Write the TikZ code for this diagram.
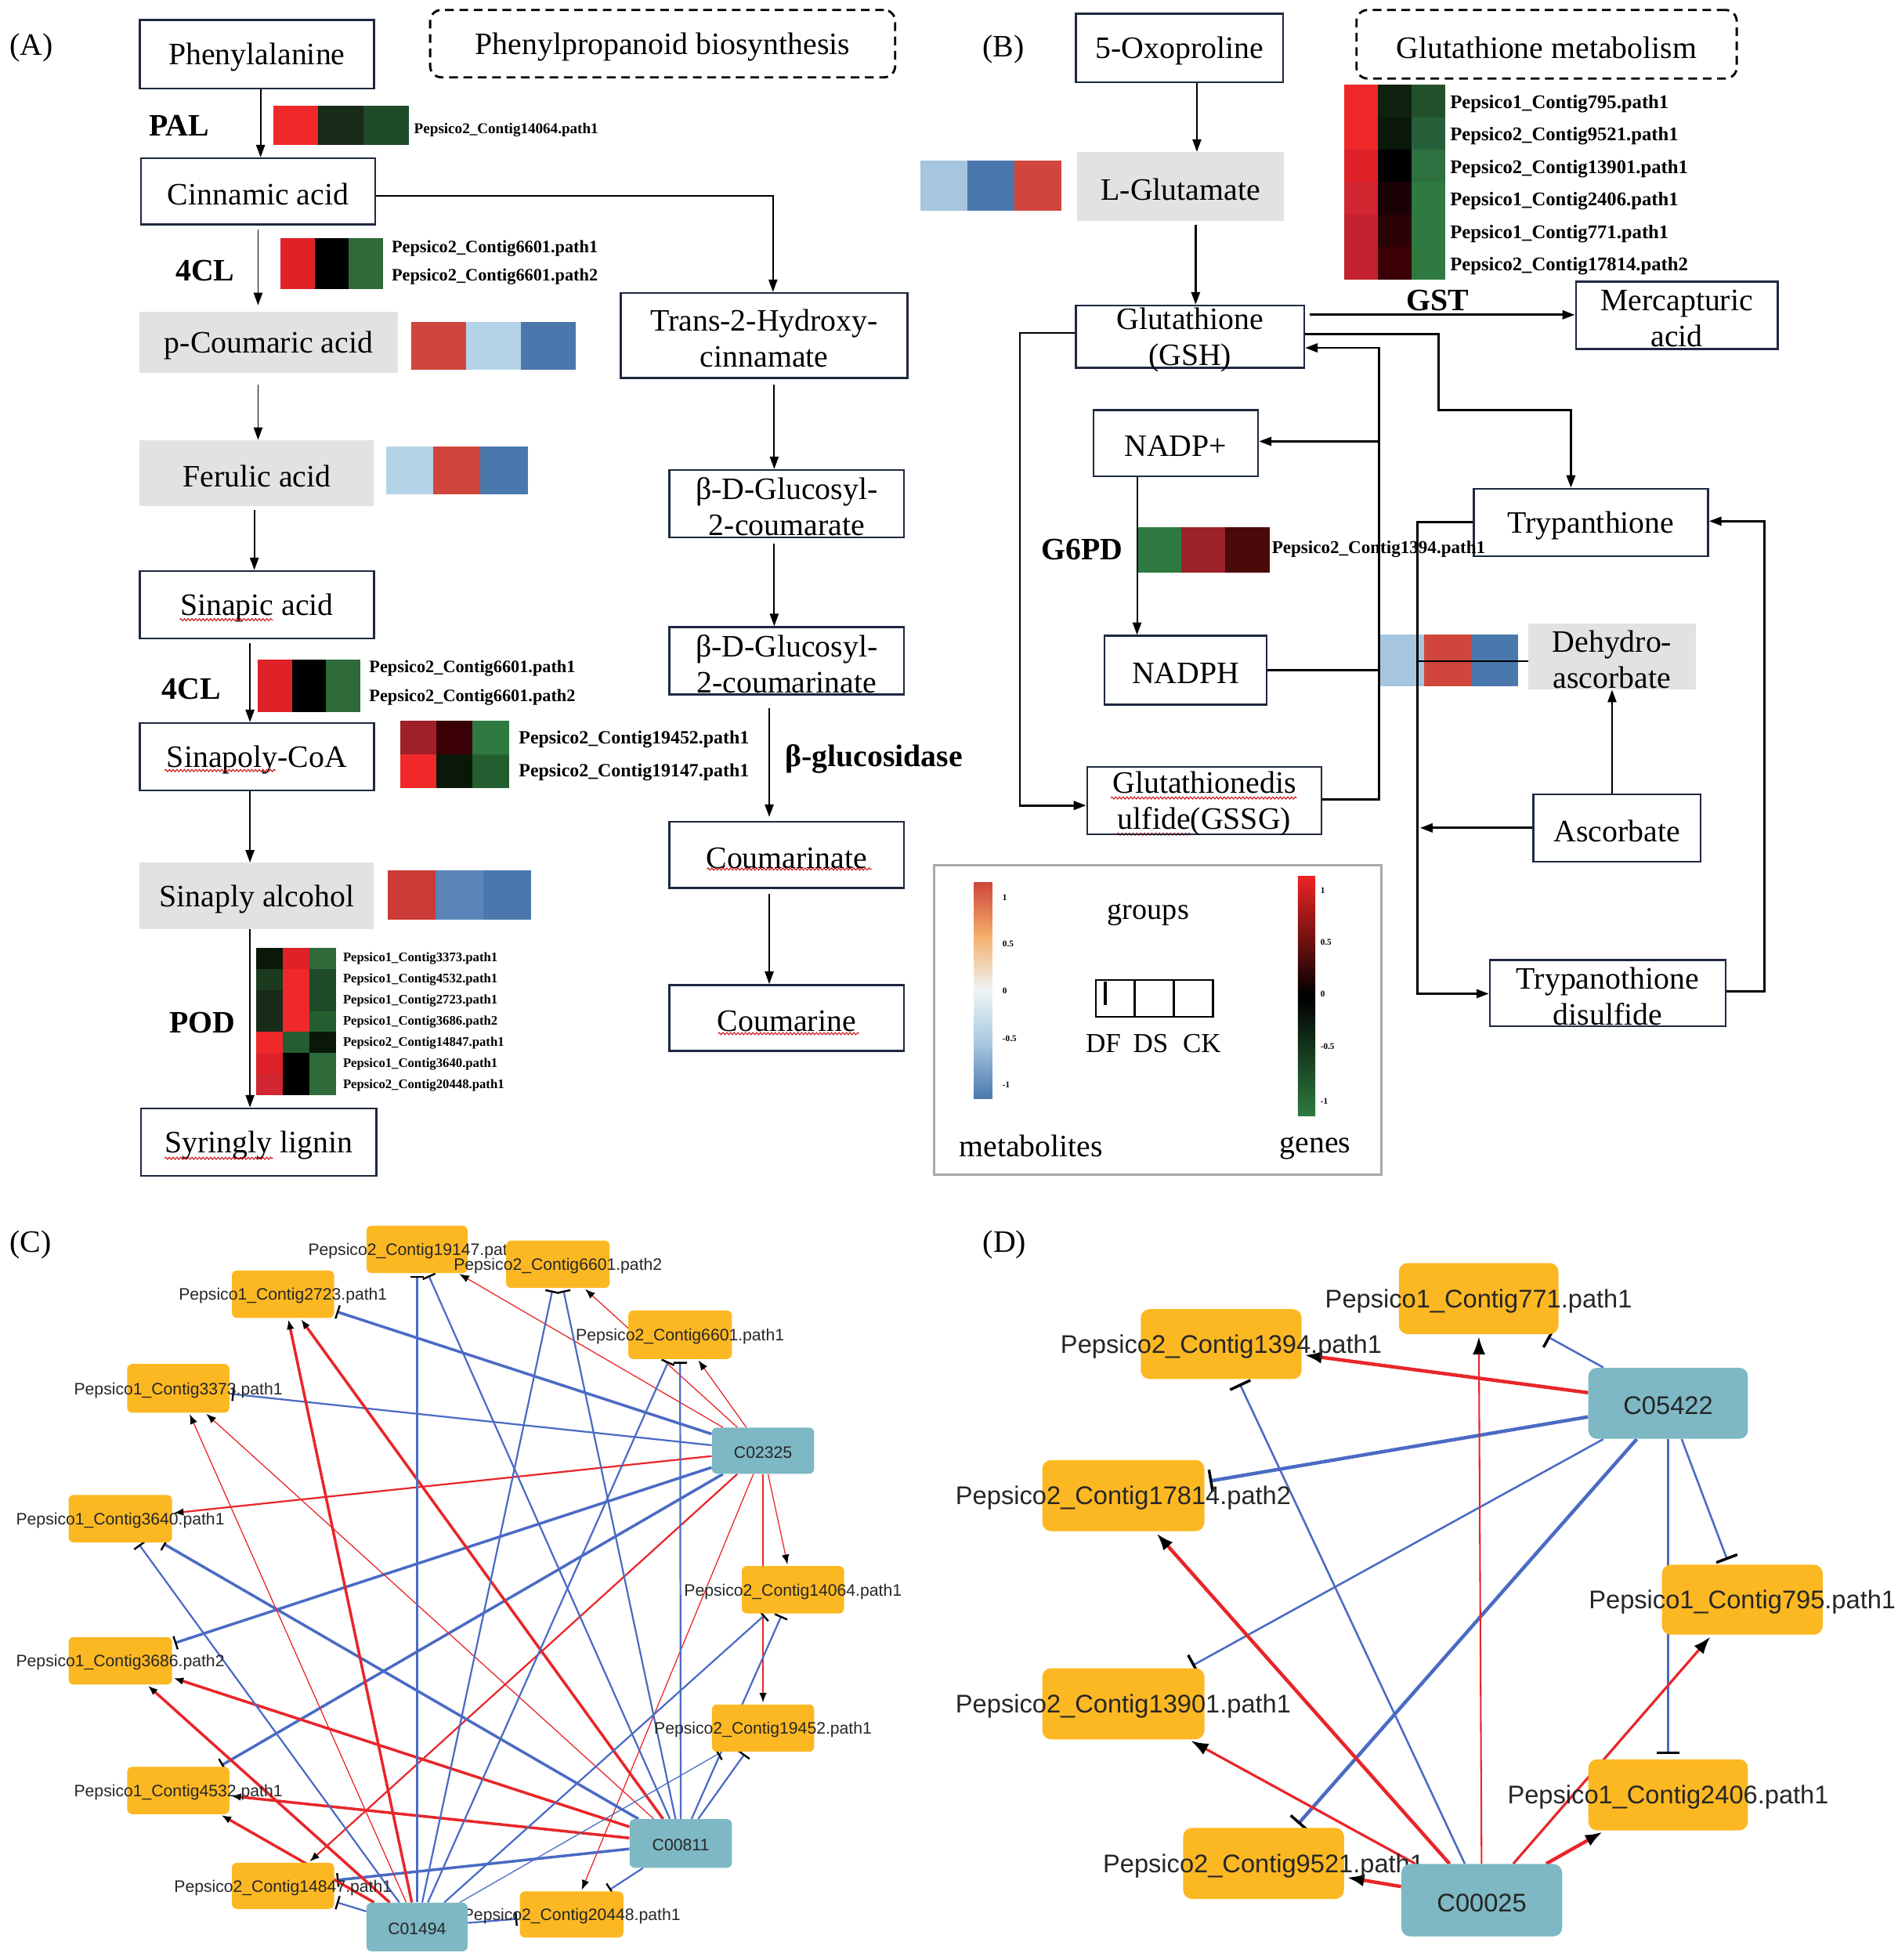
\documentclass[tikz,border=0pt]{standalone}
\usepackage{fontspec}
\setmainfont{Liberation Serif}
\newfontfamily\sansf{Liberation Sans}
\usetikzlibrary{arrows.meta,backgrounds,decorations.pathmorphing}

\definecolor{boxc}{HTML}{1E2840}
\definecolor{gfill}{HTML}{E2E2E2}
\definecolor{norange}{HTML}{FCB823}
\definecolor{nteal}{HTML}{7DB8C4}
\definecolor{ered}{HTML}{E8262A}
\definecolor{eblue}{HTML}{4A6BC4}
\definecolor{legc}{HTML}{A8A8A8}
\definecolor{cR}{HTML}{F0282A}
\definecolor{cRa}{HTML}{DE2228}
\definecolor{cRb}{HTML}{D22630}
\definecolor{cRc}{HTML}{C4222E}
\definecolor{cRd}{HTML}{A0202A}
\definecolor{cRe}{HTML}{9A2228}
\definecolor{cKr}{HTML}{3A0005}
\definecolor{cKs}{HTML}{4A0A0A}
\definecolor{cKt}{HTML}{1A0205}
\definecolor{cKu}{HTML}{2A0205}
\definecolor{cK}{HTML}{000000}
\definecolor{cKg}{HTML}{0A180A}
\definecolor{cDa}{HTML}{182A18}
\definecolor{cDb}{HTML}{1C3A1E}
\definecolor{cDc}{HTML}{1E4A28}
\definecolor{cDe}{HTML}{0E200E}
\definecolor{cG}{HTML}{2E6A3A}
\definecolor{cGb}{HTML}{2E7A40}
\definecolor{cGc}{HTML}{245E30}
\definecolor{cGd}{HTML}{22502A}
\definecolor{cGe}{HTML}{26603A}
\definecolor{cGf}{HTML}{2E7040}
\definecolor{mR}{HTML}{D0463C}
\definecolor{mRb}{HTML}{CC3A35}
\definecolor{mLB}{HTML}{B5D3E6}
\definecolor{mLC}{HTML}{A5C6DE}
\definecolor{mB}{HTML}{4A78AD}
\definecolor{mBb}{HTML}{5A84B8}
\definecolor{mOr}{HTML}{F4B06C}
\definecolor{mWh}{HTML}{EEF5F6}
\definecolor{gGr}{HTML}{2E7A40}
\definecolor{gRd}{HTML}{EE2424}

\pgfdeclareverticalshading{metabshade}{100bp}{color(0bp)=(mB); color(25bp)=(mB); color(37.5bp)=(mLC); color(50bp)=(mWh); color(62.5bp)=(mOr); color(75bp)=(mR); color(100bp)=(mR)}
\pgfdeclareverticalshading{geneshade}{100bp}{color(0bp)=(gGr); color(25bp)=(gGr); color(50bp)=(black); color(75bp)=(gRd); color(100bp)=(gRd)}

\newcommand\heatmap[5]{%
  \foreach \hmrow [count=\hmr from 0] in {#5}{%
    \foreach \hmc [count=\hmk from 0] in \hmrow{%
      \fill[\hmc] ({#1+\hmk*#3},{#2+\hmr*#4}) rectangle ({#1+(\hmk+1)*#3+0.3},{#2+(\hmr+1)*#4+0.3});
    }%
  }%
}
\newcommand\nbox[8]{%
  \node[#1, minimum width={(#5-#3)*1pt}, minimum height={(#6-#4)*1pt},
        label={[#2]center:{#8}}] (#7) at ({(#3+#5)/2},{(#4+#6)/2}) {};%
}

\begin{document}
\begin{tikzpicture}[x=1pt, y=-1pt,
  mbox/.style={draw=boxc, line width=1.6pt, inner sep=0pt},
  gbox/.style={fill=gfill, inner sep=0pt},
  dashbx/.style={draw=black, line width=1.8pt, dash pattern=on 7pt off 4.5pt, rounded corners=9pt, inner sep=0pt},
  legbx/.style={draw=legc, line width=1.8pt, inner sep=0pt},
  obox/.style={fill=norange, rounded corners=4pt, inner sep=0pt},
  tbox/.style={fill=nteal, rounded corners=4pt, inner sep=0pt},
  btxt/.style={font=\fontsize{25}{29}\selectfont, align=center, inner sep=0pt, yshift=-2.5pt},
  plbl/.style={font=\fontsize{25}{29}\selectfont, inner sep=0pt},
  enz/.style={font=\bfseries\fontsize{25}{29}\selectfont, inner sep=0pt},
  glbl/.style={font=\bfseries\fontsize{#1}{#1}\selectfont, anchor=west, inner sep=0pt, yshift=-1.2pt},
  ticklbl/.style={font=\bfseries\fontsize{7}{7}\selectfont, anchor=west, inner sep=0pt},
  ltxt/.style={font=\fontsize{#1}{#1}\selectfont, inner sep=0pt},
  clbl/.style={font=\sansf\fontsize{13.3}{15}\selectfont, text=black!85, inner sep=0pt, yshift=-1.5pt},
  dlbl/.style={font=\sansf\fontsize{20.5}{22}\selectfont, text=black!85, inner sep=0pt, yshift=-2pt},
  arr/.style={line width=1.2pt, -{Triangle[length=10pt,width=7pt]}},
  arrT/.style={arr, line width=1.8pt},
  thk/.style={line width=1.8pt},
  squig/.style={draw=red!80!black, line width=0.6pt, decorate, decoration={snake, amplitude=0.9pt, segment length=3pt}},
  cr/.style={draw=ered, line width=1.4pt, -{Latex[length=8pt,width=6pt,color=black]}, shorten >=1pt},
  crT/.style={cr, line width=2.2pt},
  crt/.style={cr, line width=0.8pt},
  cb/.style={draw=eblue, line width=1.4pt, -{Bar[width=11pt,line width=1.5pt,color=black]}, shorten >=2pt},
  cbT/.style={cb, line width=2.2pt},
  cbt/.style={cb, line width=0.8pt},
  dr/.style={draw=ered, line width=2pt, -{Latex[length=14pt,width=10pt,color=black]}, shorten >=2pt},
  drT/.style={dr, line width=2.8pt},
  drt/.style={dr, line width=1.3pt},
  dbl/.style={draw=eblue, line width=1.6pt, -{Bar[width=18pt,line width=2.2pt,color=black]}, shorten >=4pt},
  dblT/.style={dbl, line width=2.8pt}
]
\useasboundingbox (0,0) rectangle (1522,1572);

% ---------- panel labels ----------
\node[plbl] (pA) at (25,38) {(A)};
\node[plbl] (pB) at (805,39.6) {(B)};
\node[plbl] (pC) at (24.5,998.6) {(C)};
\node[plbl] (pD) at (805.7,998.6) {(D)};

% ---------- panel A ----------
\nbox{mbox}{btxt}{112}{16}{300}{71}{phe}{Phenylalanine}
\nbox{dashbx}{btxt}{345}{8}{718}{62}{ppb}{Phenylpropanoid biosynthesis}
\nbox{mbox}{btxt}{113}{127}{301}{180}{cin}{Cinnamic acid}
\nbox{gbox}{btxt}{112}{250}{319}{299}{pcou}{p-Coumaric acid}
\nbox{gbox}{btxt}{112}{353}{300}{406}{fer}{Ferulic acid}
\nbox{mbox}{btxt}{112}{458}{300}{512}{sna}{Sinapic acid}
\nbox{mbox}{btxt}{112}{580}{300}{634}{snc}{Sinapoly-CoA}
\nbox{gbox}{btxt}{112}{692}{300}{745}{snl}{Sinaply alcohol}
\nbox{mbox}{btxt}{113}{889}{302}{943}{syr}{Syringly lignin}
\nbox{mbox}{btxt}{498}{235}{728}{303}{thc}{Trans-2-Hydroxy-\\cinnamate}
\nbox{mbox}{btxt}{537}{377}{725}{431}{gca}{β-D-Glucosyl-\\2-coumarate}
\nbox{mbox}{btxt}{537}{503}{725}{557}{gcb}{β-D-Glucosyl-\\2-coumarinate}
\nbox{mbox}{btxt}{537}{659}{725}{712}{cmt}{Coumarinate}
\nbox{mbox}{btxt}{537}{790}{725}{843}{cme}{Coumarine}

% heatmaps A
\heatmap{219}{85}{36.3}{31}{{cR,cDa,cDc}}
\heatmap{225}{191}{27.3}{40.5}{{cRa,cK,cG}}
\heatmap{330}{258}{43.8}{38.5}{{mR,mLB,mB}}
\heatmap{310}{358}{37.7}{38}{{mLB,mR,mB}}
\heatmap{207}{529}{27.2}{41.5}{{cRa,cK,cG}}
\heatmap{321}{578}{29}{27}{{cRd,cKr,cGb},{cR,cKg,cGc}}
\heatmap{311}{698}{38.3}{39}{{mRb,mBb,mB}}
\heatmap{205.5}{760.5}{21.2}{16.8}{{cKg,cRa,cG},{cDb,cR,cDc},{cDa,cR,cDc},{cDa,cR,cGc},{cR,cGc,cKg},{cRa,cK,cG},{cRb,cK,cG}}

% gene labels A
\node[glbl=12] (lPAL) at (332,103) {Pepsico2\_Contig14064.path1};
\node[glbl=14] (l4a1) at (314,198) {Pepsico2\_Contig6601.path1};
\node[glbl=14] (l4a2) at (314,221) {Pepsico2\_Contig6601.path2};
\node[glbl=14] (l4b1) at (296,535) {Pepsico2\_Contig6601.path1};
\node[glbl=14] (l4b2) at (296,558) {Pepsico2\_Contig6601.path2};
\node[glbl=15] (lsc1) at (416,591.5) {Pepsico2\_Contig19452.path1};
\node[glbl=15] (lsc2) at (416,618) {Pepsico2\_Contig19147.path1};
\node[glbl=10.5] (lp1) at (275,767.5) {Pepsico1\_Contig3373.path1};
\node[glbl=10.5] (lp2) at (275,784.5) {Pepsico1\_Contig4532.path1};
\node[glbl=10.5] (lp3) at (275,801.5) {Pepsico1\_Contig2723.path1};
\node[glbl=10.5] (lp4) at (275,818.5) {Pepsico1\_Contig3686.path2};
\node[glbl=10.5] (lp5) at (275,835.5) {Pepsico2\_Contig14847.path1};
\node[glbl=10.5] (lp6) at (275,852.5) {Pepsico1\_Contig3640.path1};
\node[glbl=10.5] (lp7) at (275,869.5) {Pepsico2\_Contig20448.path1};

% enzymes
\node[enz] (ePAL) at (143.5,100.6) {PAL};
\node[enz] (e4a) at (164.5,217) {4CL};
\node[enz] (e4b) at (153.5,552.6) {4CL};
\node[enz] (ePOD) at (162.5,820) {POD};
\node[enz] (eBG) at (701,609) {β-glucosidase};

% connectors A
\draw[arr] (phe.south -| 209,0) -- (cin.north -| 209,0);
\draw[arr] (cin.east |- 0,157) -| (thc.north -| 620,0);
\draw[arr, shorten <=3pt, shorten >=5pt] (cin.south -| 207,0) -- (pcou.north -| 207,0);
\draw[arr, shorten <=9pt] (pcou.south -| 207,0) -- (fer.north -| 207,0);
\draw[arr, shorten <=3pt] (fer.south -| 204,0) -- (sna.north -| 204,0);
\draw[arr, shorten <=3pt] (sna.south -| 200.5,0) -- (snc.north -| 200.5,0);
\draw[arr] (snc.south -| 200.5,0) -- (snl.north -| 200.5,0);
\draw[arr] (snl.south -| 200.5,0) -- (syr.north -| 200.5,0);
\draw[arr, shorten <=5pt] (thc.south -| 621,0) -- (gca.north -| 621,0);
\draw[arr, shorten <=4pt] (gca.south -| 621,0) -- (gcb.north -| 621,0);
\draw[arr, shorten <=10pt, shorten >=3pt] (gcb.south -| 617,0) -- (cmt.north -| 617,0);
\draw[arr, shorten <=4pt] (cmt.south -| 617,0) -- (cme.north -| 617,0);

% spell-check squiggles
\draw[squig] (144,497) -- (219,497);
\draw[squig] (132,618) -- (221,618);
\draw[squig] (132,929) -- (219,929);
\draw[squig] (567,697) -- (699,697);
\draw[squig] (576,829) -- (689,829);
\draw[squig] (891,640) -- (1040,640);
\draw[squig] (896,669) -- (955,669);

% ---------- panel B ----------
\nbox{mbox}{btxt}{863}{11}{1029}{66}{oxo}{5-Oxoproline}
\nbox{dashbx}{btxt}{1088}{8}{1393}{63}{gtm}{Glutathione metabolism}
\nbox{gbox}{btxt}{864}{122}{1030}{177}{glu}{L-Glutamate}
\nbox{mbox}{btxt}{863}{245}{1046}{295}{gsh}{Glutathione\\(GSH)}
\nbox{mbox}{btxt}{1264}{226}{1426}{280}{mca}{Mercapturic\\acid}
\nbox{mbox}{btxt}{877}{329}{1009}{382}{ndp}{NADP+}
\nbox{mbox}{btxt}{886}{510}{1016}{565}{ndh}{NADPH}
\nbox{gbox}{btxt}{1226}{500}{1360}{553}{dha}{Dehydro-\\ascorbate}
\nbox{mbox}{btxt}{1182}{392}{1370}{446}{tpt}{Trypanthione}
\nbox{mbox}{btxt}{872}{615}{1060}{669}{gsg}{Glutathionedis\\ulfide(GSSG)}
\nbox{mbox}{btxt}{1230}{637}{1364}{691}{asc}{Ascorbate}
\nbox{mbox}{btxt}{1195}{770}{1384}{823}{tds}{Trypanothione\\disulfide}

\heatmap{738}{129}{37.7}{40}{{mLC,mB,mR}}
\heatmap{1078}{68}{27}{26}{{cR,cDe,cGd},{cR,cKg,cGe},{cRa,cK,cGf},{cRb,cKt,cGb},{cRc,cKu,cGb},{cRc,cKr,cGb}}
\heatmap{912}{423}{35.3}{36}{{cGb,cRe,cKs}}
\heatmap{1105}{509}{37.5}{41}{{mLC,mR,mB}}

\node[glbl=15.5] (lg1) at (1163,82.3) {Pepsico1\_Contig795.path1};
\node[glbl=15.5] (lg2) at (1163,108) {Pepsico2\_Contig9521.path1};
\node[glbl=15.5] (lg3) at (1163,134.5) {Pepsico2\_Contig13901.path1};
\node[glbl=15.5] (lg4) at (1163,160) {Pepsico1\_Contig2406.path1};
\node[glbl=15.5] (lg5) at (1163,186.5) {Pepsico1\_Contig771.path1};
\node[glbl=15.5] (lg6) at (1163,212.5) {Pepsico2\_Contig17814.path2};
\node[glbl=14.5] (lg7) at (1020,439) {Pepsico2\_Contig1394.path1};
\node[enz] (eGST) at (1153,241) {GST};
\node[enz] (eG6) at (868,440.5) {G6PD};

% connectors B
\draw[arr] (oxo.south -| 960,0) -- (glu.north -| 960,0);
\draw[arrT, shorten <=3pt] (glu.south -| 959,0) -- (gsh.north -| 959,0);
\draw[arrT, shorten <=4pt] (gsh.east |- 0,252.5) -- (mca.west |- 0,252.5);
\draw[arr, thk] (gsh.east |- 0,268) -| (1154,329) -| (tpt.north -| 1260,0);
\draw[arrT] (gsh.west |- 0,267) -| (818,646) -- (gsg.west |- 0,646);
\draw[arrT] (gsg.east |- 0,641) -| (1106,279) -- (gsh.east |- 0,279);
\coordinate (jn) at (1106,354);
\draw[arrT] (jn) -- (ndp.east |- jn);
\draw[arr] (ndp.south -| 912,0) -- (ndh.north -| 912,0);
\coordinate (jh) at (1106,537.5);
\draw[thk] (ndh.east |- jh) -- (jh);
\draw[arrT] (tpt.west |- 0,419) -| (1137,797) -- (tds.west |- 0,797);
\coordinate (ja) at (1139,664);
\draw[arrT] (asc.west |- ja) -- (ja);
\draw[arr] (asc.north -| 1293,0) -- (dha.south -| 1293,0);
\draw[arrT] (tds.east |- 0,795) -| (1415,418) -- (tpt.east |- 0,418);
\coordinate (jd) at (1137,530);
\draw[line width=1.2pt] (jd) -- (dha.west |- jd);

% legend
\nbox{legbx}{btxt}{749}{694}{1108}{942}{leg}{}
\shade[shading=metabshade] (781,708) rectangle (796,881);
\shade[shading=geneshade] (1041,703) rectangle (1055,895);
\node[ticklbl] (t1) at (804,720) {1};
\node[ticklbl] (t2) at (804,757) {0.5};
\node[ticklbl] (t3) at (804,795) {0};
\node[ticklbl] (t4) at (804,833) {-0.5};
\node[ticklbl] (t5) at (804,870) {-1};
\node[ticklbl] (u1) at (1059,714) {1};
\node[ticklbl] (u2) at (1059,756) {0.5};
\node[ticklbl] (u3) at (1059,797) {0};
\node[ticklbl] (u4) at (1059,839) {-0.5};
\node[ticklbl] (u5) at (1059,883) {-1};
\node[ltxt=24] (lgroups) at (921,734) {groups};
\draw[line width=1.5pt] (879,786) rectangle (973,815.5);
\draw[line width=1.5pt] (910,786) -- (910,815.5) (941.5,786) -- (941.5,815.5);
\draw[line width=2pt] (886.5,787) -- (886.5,806);
\node[ltxt=22] (lDF) at (885,837) {DF};
\node[ltxt=22] (lDS) at (923,837) {DS};
\node[ltxt=22] (lCK) at (964,837) {CK};
\node[ltxt=25] (lmet) at (827,919) {metabolites};
\node[ltxt=25] (lgen) at (1055,921) {genes};

\begin{scope}[shift={(0,2)}]
% ---------- panel C ----------
\nbox{obox}{clbl}{294}{981}{375}{1019}{c19147}{Pepsico2\_Contig19147.path1}
\nbox{obox}{clbl}{406}{993}{489}{1031}{c6601b}{Pepsico2\_Contig6601.path2}
\nbox{obox}{clbl}{186}{1017}{268}{1055}{c2723}{Pepsico1\_Contig2723.path1}
\nbox{obox}{clbl}{504}{1049}{587}{1088}{c6601a}{Pepsico2\_Contig6601.path1}
\nbox{obox}{clbl}{102}{1092}{184}{1131}{c3373}{Pepsico1\_Contig3373.path1}
\nbox{tbox}{clbl}{571}{1143}{653}{1180}{nC02325}{C02325}
\nbox{obox}{clbl}{55}{1197}{138}{1235}{c3640}{Pepsico1\_Contig3640.path1}
\nbox{obox}{clbl}{595}{1254}{677}{1292}{c14064}{Pepsico2\_Contig14064.path1}
\nbox{obox}{clbl}{55}{1311}{138}{1349}{c3686}{Pepsico1\_Contig3686.path2}
\nbox{obox}{clbl}{571}{1365}{653}{1403}{c19452}{Pepsico2\_Contig19452.path1}
\nbox{obox}{clbl}{102}{1415}{184}{1453}{c4532}{Pepsico1\_Contig4532.path1}
\nbox{tbox}{clbl}{505}{1457}{587}{1496}{nC00811}{C00811}
\nbox{obox}{clbl}{186}{1492}{268}{1529}{c14847}{Pepsico2\_Contig14847.path1}
\nbox{obox}{clbl}{417}{1515}{500}{1552}{c20448}{Pepsico2\_Contig20448.path1}
\nbox{tbox}{clbl}{294}{1524}{375}{1563}{nC01494}{C01494}

% ---------- panel D ----------
\nbox{obox,rounded corners=7pt}{dlbl}{1122}{1011}{1250}{1068}{d771}{Pepsico1\_Contig771.path1}
\nbox{obox,rounded corners=7pt}{dlbl}{915}{1048}{1044}{1104}{d1394}{Pepsico2\_Contig1394.path1}
\nbox{tbox,rounded corners=7pt}{dlbl}{1274}{1095}{1402}{1152}{nC05422}{C05422}
\nbox{obox,rounded corners=7pt}{dlbl}{836}{1169}{966}{1226}{d17814}{Pepsico2\_Contig17814.path2}
\nbox{obox,rounded corners=7pt}{dlbl}{1333}{1253}{1462}{1309}{d795}{Pepsico1\_Contig795.path1}
\nbox{obox,rounded corners=7pt}{dlbl}{836}{1336}{966}{1393}{d13901}{Pepsico2\_Contig13901.path1}
\nbox{obox,rounded corners=7pt}{dlbl}{1274}{1409}{1402}{1466}{d2406}{Pepsico1\_Contig2406.path1}
\nbox{obox,rounded corners=7pt}{dlbl}{949}{1464}{1078}{1521}{d9521}{Pepsico2\_Contig9521.path1}
\nbox{tbox,rounded corners=7pt}{dlbl}{1124}{1493}{1253}{1551}{nC00025}{C00025}
\end{scope}

\begin{scope}[on background layer]
% C edges
\draw[cbT] (nC02325) -- (c2723);
\draw[cb]  (nC02325) -- (c3373);
\draw[cbT] (nC02325) -- (c3686);
\draw[cbT] (nC02325) -- (c4532);
\draw[cr]  (nC02325) -- (c3640);
\draw[cr]  (nC02325) -- (c14847);
\draw[crt] (nC02325) -- (c20448);
\draw[crt] (nC02325) -- (c14064);
\draw[cr]  (nC02325) -- (c19452);
\draw[crt] (nC02325) -- (c6601a);
\draw[crt] (nC02325) -- (c6601b);
\draw[crt] (nC02325) -- (c19147);
\draw[cb]  (nC00811) -- (c19147);
\draw[cb]  (nC00811) -- (c6601b);
\draw[cb]  (nC00811) -- (c6601a);
\draw[cbT] (nC00811) -- (c3640);
\draw[cbT] (nC00811) -- (c14847);
\draw[cb]  (nC00811) -- (c19452);
\draw[cb]  (nC00811) -- (c14064);
\draw[cb]  (nC00811) -- (c20448);
\draw[crT] (nC00811) -- (c2723);
\draw[crt] (nC00811) -- (c3373);
\draw[crT] (nC00811) -- (c3686);
\draw[crT] (nC00811) -- (c4532);
\draw[cb]  (nC01494) -- (c19147);
\draw[cb]  (nC01494) -- (c6601b);
\draw[cb]  (nC01494) -- (c6601a);
\draw[cb]  (nC01494) -- (c3640);
\draw[cb]  (nC01494) -- (c14064);
\draw[cbt] (nC01494) -- (c19452);
\draw[cb]  (nC01494) -- (c14847);
\draw[cb]  (nC01494) -- (c20448);
\draw[crT] (nC01494) -- (c2723);
\draw[crt] (nC01494) -- (c3373);
\draw[crT] (nC01494) -- (c3686);
\draw[crT] (nC01494) -- (c4532);
% D edges
\draw[drT]  (nC05422) -- (d1394);
\draw[dbl]  (nC05422) -- (d771);
\draw[dblT] (nC05422) -- (d17814);
\draw[dbl]  (nC05422) -- (d13901);
\draw[dblT] (nC05422) -- (d9521);
\draw[dbl]  (nC05422) -- (d795);
\draw[dbl]  (nC05422) -- (d2406);
\draw[drt]  (nC00025) -- (d771);
\draw[dbl]  (nC00025) -- (d1394);
\draw[drT]  (nC00025) -- (d17814);
\draw[dr]   (nC00025) -- (d13901);
\draw[drT]  (nC00025) -- (d9521);
\draw[drT]  (nC00025) -- (d2406);
\draw[dr]   (nC00025) -- (d795);
\end{scope}
\end{tikzpicture}
\end{document}
